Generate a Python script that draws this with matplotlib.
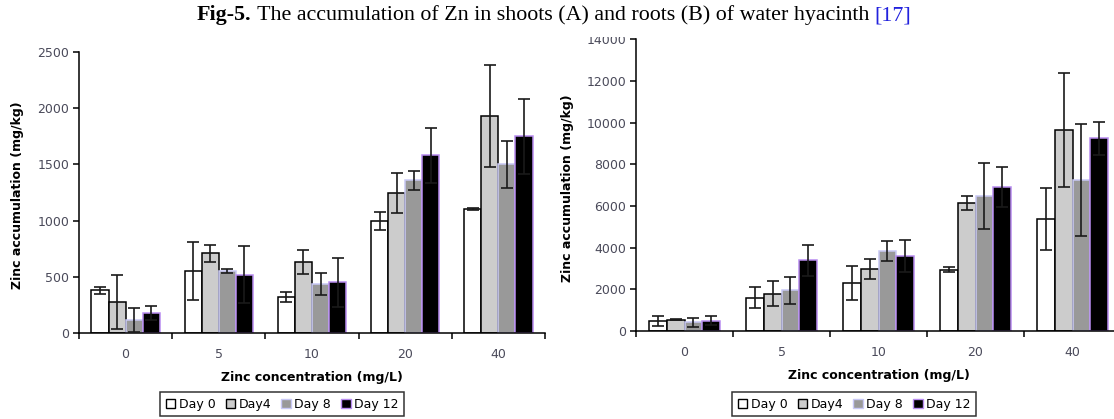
import numpy as np
import matplotlib.pyplot as plt
from matplotlib.patches import Patch, Rectangle

concentrations = ['0', '5', '10', '20', '40']
days = ['Day 0', 'Day4', 'Day 8', 'Day 12']

# shoots (A), mg/kg
shoot_day0 = [380, 550, 320, 1000, 1100]
shoot_day4 = [280, 710, 630, 1245, 1930]
shoot_day8 = [115, 550, 435, 1360, 1500]
shoot_day12 = [180, 520, 450, 1580, 1750]
shoot_err0 = [30, 260, 45, 80, 8]
shoot_err4 = [240, 75, 105, 180, 450]
shoot_err8 = [105, 20, 98, 85, 210]
shoot_err12 = [62, 255, 220, 245, 335]

# roots (B), mg/kg
root_day0 = [480, 1600, 2300, 2950, 5380]
root_day4 = [540, 1780, 2980, 6150, 9650]
root_day8 = [410, 1950, 3830, 6480, 7250]
root_day12 = [500, 3400, 3600, 6900, 9250]
root_err0 = [250, 500, 800, 140, 1490]
root_err4 = [30, 600, 500, 340, 2750]
root_err8 = [230, 660, 470, 1600, 2700]
root_err12 = [230, 740, 750, 960, 800]

fills = ['white', '#cccccc', '#999999', 'black']
edges = ['black', 'black', '#c8c8f5', '#b88cf0']
tick_col = '#4a4a5a'

plt.rcParams['font.family'] = 'DejaVu Sans'

fig = plt.figure(figsize=(11.14, 4.19), dpi=100)
ax1 = fig.add_axes([79 / 1114, 86 / 419, 466 / 1114, 281 / 419])
ax2 = fig.add_axes([636 / 1114, 88 / 419, 485 / 1114, 291.5 / 419])


def draw_panel(ax, series, errors, ymax, ystep):
    x = np.arange(len(concentrations)) + 0.5
    w = 0.183
    for i, (vals, errs) in enumerate(zip(series, errors)):
        pos = x + (i - 1.5) * w
        ax.bar(pos, vals, width=w, color=fills[i], edgecolor=edges[i],
               linewidth=1.1, zorder=2)
        ax.errorbar(pos, vals, yerr=errs, fmt='none', ecolor='#1a1a1a',
                    elinewidth=1.2, capsize=4, capthick=1.2, zorder=3)
    ax.set_xlim(0, 5)
    ax.set_ylim(0, ymax)
    ax.set_yticks(np.arange(0, ymax + 1, ystep))
    ax.set_xticks(x)
    ax.set_xticklabels(concentrations)
    ax.set_xticks(np.arange(0, 6), minor=True)
    ax.tick_params(axis='x', which='major', length=0, pad=11,
                   labelsize=9, labelcolor=tick_col)
    ax.tick_params(axis='x', which='minor', length=4, width=1.1, direction='out')
    ax.tick_params(axis='y', length=4, width=1.1, direction='out',
                   labelsize=9, labelcolor=tick_col, pad=3)
    for s in ['top', 'right']:
        ax.spines[s].set_visible(False)
    for s in ['left', 'bottom']:
        ax.spines[s].set_linewidth(1.1)
    ax.set_xlabel('Zinc concentration (mg/L)', fontsize=9, fontweight='bold',
                  labelpad=7)
    ax.set_ylabel('Zinc accumulation (mg/kg)', fontsize=9, fontweight='bold')


draw_panel(ax1, [shoot_day0, shoot_day4, shoot_day8, shoot_day12],
           [shoot_err0, shoot_err4, shoot_err8, shoot_err12], 2500, 500)
draw_panel(ax2, [root_day0, root_day4, root_day8, root_day12],
           [root_err0, root_err4, root_err8, root_err12], 14000, 2000)
ax1.yaxis.set_label_coords(-0.118, 0.49)
ax2.yaxis.set_label_coords(-0.127, 0.49)

handles = [Patch(facecolor=fills[i], edgecolor=edges[i] if i > 1 else 'black',
                 linewidth=1) for i in range(4)]
for x0 in [160 / 1114, 732 / 1114]:
    leg = fig.legend(handles, days, loc='upper left',
                     bbox_to_anchor=(x0, 1 - 392 / 419), fontsize=9,
                     frameon=True, fancybox=False, handlelength=0.75,
                     handleheight=0.75, handletextpad=0.3, columnspacing=0.8,
                     ncol=4, borderpad=0.45, borderaxespad=0)
    leg.get_frame().set_edgecolor('black')
    leg.get_frame().set_linewidth(1.1)

# white band behind the caption, it sits over the top of the right panel
fig.patches.append(Rectangle((190 / 1114, 1 - 37 / 419), 735 / 1114, 37 / 419,
                             transform=fig.transFigure, facecolor='white',
                             edgecolor='none', zorder=5))

# caption in three runs: bold label, plain text, blue reference
fig.canvas.draw()
renderer = fig.canvas.get_renderer()
parts = [('Fig-5.', 'bold', 'black'),
         (' The accumulation of Zn in shoots (A) and roots (B) of water hyacinth ', 'normal', 'black'),
         ('[17]', 'normal', '#2222dd')]
xpos = 197 / 1114
for txt, weight, col in parts:
    t = fig.text(xpos, 1 - 20 / 419, txt, fontsize=15.8, fontweight=weight,
                 color=col, family='Liberation Serif', va='baseline',
                 ha='left', zorder=6)
    bb = t.get_window_extent(renderer)
    xpos += bb.width / fig.bbox.width

fig.savefig('out.png', dpi=100)
